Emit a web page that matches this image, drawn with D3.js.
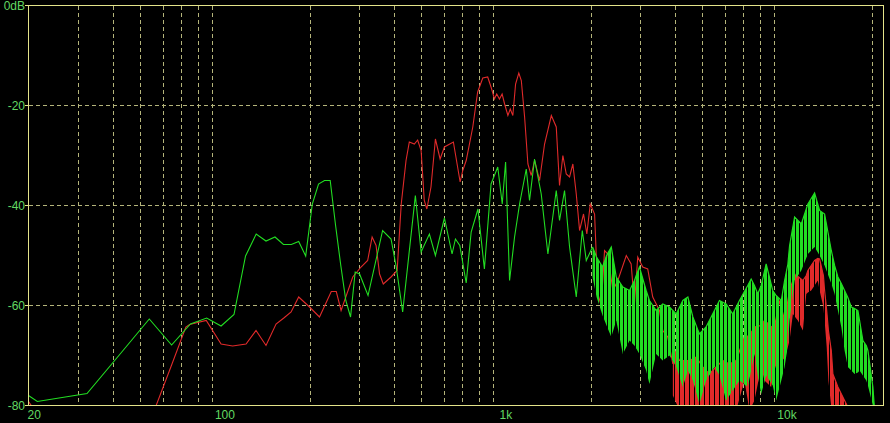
<!DOCTYPE html>
<html>
<head>
<meta charset="utf-8">
<script src="https://cdn.jsdelivr.net/npm/d3@7/dist/d3.min.js"></script>
<style>
    html, body { margin: 0; padding: 0; background: #000; }
    svg { display: block; }
</style>
</head>
<body>
<svg id="chart"></svg>
<script>
// axis ticks
const xTickValues = [20, 100, 1000, 10000];
const xTickLabels = ['20', '100', '1k', '10k'];
const yTickValues = [0, -20, -40, -60, -80];
const yTickLabels = ['0dB', '-20', '-40', '-60', '-80'];
const xGridValues = [30, 40, 50, 60, 70, 80, 90, 200, 300, 400, 500, 600, 700, 800, 900,
    2000, 3000, 4000, 5000, 6000, 7000, 8000, 9000, 20000];
const yGridValues = [-20, -40, -60];

// green channel: line part (Hz / dB)
const greenFreq = [20, 21.5, 32.3, 43.1, 53.8, 64.6, 75.4, 86.1, 96.9, 107.7, 118.4, 129.2, 140, 150.7, 161.5,
    172.3, 183, 193.8, 204.6, 215.3, 226.1, 236.9, 247.6, 258.4, 269.2, 279.9, 290.7, 301.4, 323, 364,
    390, 407, 429, 476, 499, 534, 561, 604, 643, 661, 685, 722, 752, 795, 838,
    885, 935, 970, 997, 1030, 1073, 1118, 1181, 1213, 1264, 1335, 1410, 1510, 1551, 1616,
    1684, 1779, 1869, 1931, 2033];
const greenDb = [-78, -79.2, -77.6, -69.2, -62.7, -67.9, -63.7, -62.5, -64.1, -61.8, -50.1, -45.7, -47.1, -46.3, -47.8,
    -47.8, -47.2, -50.1, -39.7, -35.7, -35, -35, -44, -52, -59, -62.3, -53.3, -53.7, -58, -45,
    -46.7, -52.3, -61.3, -38, -49.3, -45.7, -50, -42.5, -49.7, -46.7, -48, -55.5, -45.3, -40.7, -52.7,
    -35.7, -32.3, -39.7, -31.3, -55, -46.3, -39.7, -32.7, -39, -30.7, -37.7, -49.7, -37, -43, -37,
    -48.3, -58.3, -45, -51, -48.3];

// green channel: dense part, max / min per frequency
const greenBandFreq = [2033, 2101, 2207, 2280, 2370, 2469, 2606, 2753, 2865, 2985, 3154, 3240, 3423, 3613, 3817,
    4036, 4260, 4439, 4625, 4879, 5154, 5519, 5750, 6074, 6410, 6774, 7251, 7456, 7660, 7870,
    8093, 8431, 8897, 9149, 9544, 9805, 10074, 10215, 10643, 11243, 11868, 12538, 13062, 13609, 14377,
    14771, 15176, 15605, 16029, 16465, 16936, 17400, 17877, 18128, 18624, 19150, 19403, 20215, 20498];
const greenBandTop = [-48.3, -50.3, -52.3, -50, -48.3, -54.3, -56.3, -57, -55, -52.3, -57, -59, -61, -59.7, -60.3,
    -61.7, -59, -58.3, -62.3, -65.7, -64.3, -61, -59, -59.7, -61.7, -59, -56, -54.7, -56, -57.7,
    -56, -51.7, -57, -58, -59, -55, -51.7, -48, -42.3, -43.7, -39.7, -37.5, -41, -41.7, -49,
    -52, -54.3, -55.6, -57, -58.4, -60.3, -60.6, -61, -63, -67, -68, -69, -76.3, -81];
const greenBandBottom = [-54.3, -58.3, -62, -64, -66.3, -63, -69.7, -67, -68, -69.7, -73, -75.7, -69.7, -71, -70,
    -72.3, -76.3, -73, -75, -79.7, -75, -72.3, -74, -79, -77, -75, -76.3, -73, -69.7, -74,
    -77.7, -74, -76, -79, -75, -72.3, -68, -63, -55, -53, -49.7, -48.3, -50, -52, -55.6,
    -57.7, -61, -64.3, -69, -72.3, -73, -73.7, -73.4, -73, -74, -75, -76, -80, -81];

// red channel: line part
const redFreq = [20, 20.7, 21.5, 53.8, 64.6, 72.6, 74.9, 85.8, 96.9, 106.5, 118.9, 129, 140, 152, 162,
    172, 183, 200, 217, 239, 249, 259, 285, 305, 322, 334, 345, 355, 366, 390,
    410, 424, 441, 453, 472, 485, 499, 512, 523, 541, 561, 583, 604, 650, 687,
    702, 722, 762, 793, 827, 861, 885, 910, 927, 948, 969, 989, 1016, 1036, 1058,
    1082, 1111, 1134, 1165, 1197, 1230, 1264, 1317, 1372, 1450, 1510, 1551, 1594, 1639, 1684,
    1730, 1779, 1828, 1888, 1940, 1995, 2067, 2123, 2183, 2243, 2304, 2401, 2501, 2680, 2789,
    2865, 2944, 3067, 3195, 3329, 3517, 3613, 3765, 3925];
const redDb = [-79.2, -80.4, -84, -83.6, -71.9, -64.3, -63.8, -63, -67.7, -68.1, -67.7, -65, -68, -63.7, -62.5,
    -61.3, -58.3, -60.3, -62.3, -57.2, -57.2, -61, -54.3, -52.3, -51, -46.3, -48, -53.7, -55.7, -54.3,
    -53, -39.7, -31, -27.3, -27.7, -26.9, -29, -39, -40.7, -36.3, -26.7, -30.7, -28.3, -27.3, -35.3,
    -33, -31, -24.3, -17.3, -14.5, -14.3, -16.3, -18.7, -17.7, -18.7, -17.7, -19.7, -22, -20.7, -22,
    -15.7, -13.5, -15, -22.3, -31.7, -34, -31, -35, -27.7, -22, -24.3, -36, -30, -33.7, -34.3,
    -31.7, -37.7, -45, -41.7, -45.7, -39.7, -41.7, -57.7, -60, -49, -49.7, -57, -55, -50, -51.7,
    -59.7, -50.3, -52.3, -52.7, -58.3, -61, -65, -66.3, -71.7];

// red channel: dense part
const redBandFreq = [3925, 4147, 4501, 4755, 5013, 5295, 5596, 5907, 6240, 6594, 7058, 7353, 7660, 8093, 8314,
    8781, 9022, 9412, 9805, 10074, 10215, 10495, 10790, 10934, 11392, 11712, 11868, 12193, 12538, 12871,
    13062, 13476, 13609, 13845, 14038, 14377, 14567, 15176, 16029, 16699];
const redBandTop = [-68.3, -71, -71, -70.3, -72.3, -73.7, -72.3, -71, -71.7, -71, -66.3, -66, -64.3, -64, -63,
    -64.2, -64.3, -59, -63, -59, -57, -55, -53.7, -54.2, -55, -54, -53, -52, -51, -50.6,
    -50.7, -54, -57, -61, -65, -69, -73.7, -76.3, -79, -81];
const redBandBottom = [-78, -81, -81, -81, -81, -81, -81, -80, -80, -81, -75, -81, -79, -72.3, -75,
    -76.3, -73, -69.7, -71, -68.3, -67, -61.7, -62.6, -63, -65, -57.7, -57.4, -57, -56, -55,
    -57, -60.3, -63, -68.3, -75, -80.3, -81, -81, -81, -81];

const width = 890;
const height = 423;
const plot = { left: 28.5, right: 883.5, top: 5.5, bottom: 405.5 };

const gridColor = '#b4b47a';
const frameColor = '#e4e48a';
const labelColor = '#62d862';
const redColor = '#e02a2a';
const greenColor = '#22dd22';

const svg = d3.select('#chart')
    .attr('width', width)
    .attr('height', height);

svg.append('rect')
    .attr('width', width)
    .attr('height', height)
    .attr('fill', '#000');

const x = d3.scaleLog()
    .domain([20, 22050])
    .range([plot.left, plot.right]);

const y = d3.scaleLinear()
    .domain([0, -80])
    .range([plot.top, plot.bottom]);

const defs = svg.append('defs');

// streaky fill for the dense (high frequency) part of each trace
function stripes(id, color, on, period) {
    const p = defs.append('pattern')
        .attr('id', id)
        .attr('patternUnits', 'userSpaceOnUse')
        .attr('width', period)
        .attr('height', 8);
    p.append('rect')
        .attr('width', on)
        .attr('height', 8)
        .attr('fill', color);
}
stripes('red-streaks', redColor, 4, 5);
stripes('green-streaks', greenColor, 3, 4);

defs.append('clipPath')
    .attr('id', 'plot-clip')
    .append('rect')
    .attr('x', plot.left)
    .attr('y', plot.top)
    .attr('width', plot.right - plot.left)
    .attr('height', plot.bottom - plot.top);

// dashed grid
const grid = svg.append('g')
    .attr('stroke', gridColor)
    .attr('stroke-width', 1)
    .attr('stroke-dasharray', '4,3')
    .attr('shape-rendering', 'crispEdges');

grid.selectAll('line.v')
    .data(xGridValues)
    .enter().append('line')
    .attr('class', 'v')
    .attr('x1', d => Math.round(x(d)) + 0.5)
    .attr('x2', d => Math.round(x(d)) + 0.5)
    .attr('y1', plot.top)
    .attr('y2', plot.bottom);

grid.selectAll('line.h')
    .data(yGridValues)
    .enter().append('line')
    .attr('class', 'h')
    .attr('x1', plot.left)
    .attr('x2', plot.right)
    .attr('y1', d => y(d))
    .attr('y2', d => y(d));

const series = svg.append('g').attr('clip-path', 'url(#plot-clip)');

const line = d3.line()
    .x(d => x(d[0]))
    .y(d => y(d[1]));

const band = d3.area()
    .x(d => x(d[0]))
    .y0(d => y(d[2]))
    .y1(d => y(d[1]));

function drawSeries(freq, db, bandFreq, bandTop, bandBottom, color, fillId) {
    const pts = freq.map((f, i) => [f, db[i]]);
    const bandPts = bandFreq.map((f, i) => [f, bandTop[i], bandBottom[i]]);

    series.append('path')
        .attr('d', band(bandPts))
        .attr('fill', 'url(#' + fillId + ')');

    // upper edge of the dense part
    series.append('path')
        .attr('d', line(bandPts))
        .attr('fill', 'none')
        .attr('stroke', color)
        .attr('stroke-width', 1.2);

    series.append('path')
        .attr('d', line(pts))
        .attr('fill', 'none')
        .attr('stroke', color)
        .attr('stroke-width', 1.1);
}

drawSeries(redFreq, redDb, redBandFreq, redBandTop, redBandBottom, redColor, 'red-streaks');
drawSeries(greenFreq, greenDb, greenBandFreq, greenBandTop, greenBandBottom, greenColor, 'green-streaks');

// frame
svg.append('rect')
    .attr('x', plot.left)
    .attr('y', plot.top)
    .attr('width', plot.right - plot.left)
    .attr('height', plot.bottom - plot.top)
    .attr('fill', 'none')
    .attr('stroke', frameColor)
    .attr('stroke-width', 1)
    .attr('shape-rendering', 'crispEdges');

// y ticks + labels
svg.selectAll('line.ytick')
    .data(yTickValues)
    .enter().append('line')
    .attr('class', 'ytick')
    .attr('x1', plot.left - 4)
    .attr('x2', plot.left)
    .attr('y1', d => y(d))
    .attr('y2', d => y(d))
    .attr('stroke', frameColor)
    .attr('shape-rendering', 'crispEdges');

svg.selectAll('text.ylab')
    .data(yTickValues)
    .enter().append('text')
    .attr('class', 'ylab')
    .attr('x', 25)
    .attr('y', d => y(d))
    .attr('dy', '0.36em')
    .attr('text-anchor', 'end')
    .attr('fill', labelColor)
    .attr('font-family', 'Liberation Sans, Arial, sans-serif')
    .attr('font-size', '12px')
    .text((d, i) => yTickLabels[i]);

// x labels
svg.selectAll('text.xlab')
    .data(xTickValues)
    .enter().append('text')
    .attr('class', 'xlab')
    .attr('x', (d, i) => i === 0 ? plot.left - 1 : x(d))
    .attr('y', 419)
    .attr('text-anchor', (d, i) => i === 0 ? 'start' : 'middle')
    .attr('fill', labelColor)
    .attr('font-family', 'Liberation Sans, Arial, sans-serif')
    .attr('font-size', '12px')
    .text((d, i) => xTickLabels[i]);
</script>
</body>
</html>
